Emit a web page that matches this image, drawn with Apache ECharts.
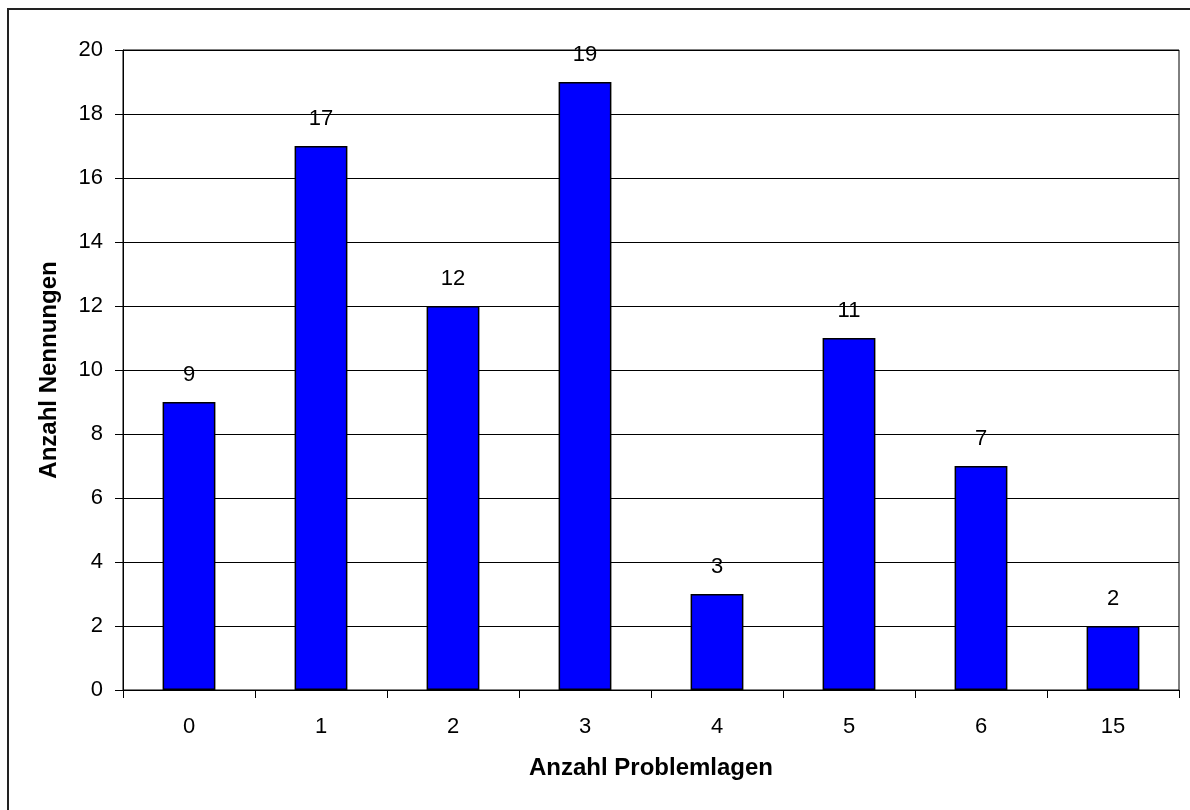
<!DOCTYPE html>
<html>
<head>
<meta charset="utf-8">
<script src="https://cdn.jsdelivr.net/npm/echarts@6/dist/echarts.min.js"></script>
<style>
  html, body { margin: 0; padding: 0; background: #fff; }
  #chart { width: 1190px; height: 810px; }
</style>
</head>
<body>
<div id="chart"></div>
<script>
  const categories = ['0', '1', '2', '3', '4', '5', '6', '15'];
  const nennungen = [9, 17, 12, 19, 3, 11, 7, 2];
  const yTicks = [0, 2, 4, 6, 8, 10, 12, 14, 16, 18, 20];

  const font = '"Liberation Sans", Arial, sans-serif';
  const chart = echarts.init(document.getElementById('chart'));

  chart.setOption({
    animation: false,
    backgroundColor: '#fff',
    graphic: [{
      type: 'rect',
      shape: {x: 8, y: 9, width: 1220, height: 840},
      style: {fill: 'none', stroke: '#222', lineWidth: 2},
      silent: true
    }],
    grid: {
      show: true,
      left: 123,
      top: 50,
      right: 11,
      bottom: 120,
      borderColor: '#000',
      borderWidth: 1,
      backgroundColor: 'transparent'
    },
    xAxis: {
      type: 'category',
      data: categories,
      name: 'Anzahl Problemlagen',
      nameLocation: 'middle',
      nameGap: 66,
      nameTextStyle: {fontFamily: font, fontSize: 24, fontWeight: 'bold', color: '#000'},
      axisLine: {lineStyle: {color: '#000', width: 1}},
      axisTick: {show: true, length: 8, lineStyle: {color: '#000'}},
      axisLabel: {fontFamily: font, fontSize: 22, color: '#000', margin: 26}
    },
    yAxis: {
      type: 'value',
      min: yTicks[0],
      max: yTicks[yTicks.length - 1],
      interval: 2,
      name: 'Anzahl Nennungen',
      nameLocation: 'middle',
      nameGap: 62,
      nameTextStyle: {fontFamily: font, fontSize: 24, fontWeight: 'bold', color: '#000'},
      axisLine: {show: true, lineStyle: {color: '#000', width: 1}},
      axisTick: {show: true, length: 8, lineStyle: {color: '#000'}},
      axisLabel: {fontFamily: font, fontSize: 22, color: '#000', margin: 20},
      splitLine: {show: true, lineStyle: {color: '#000', width: 1}}
    },
    series: [{
      type: 'bar',
      data: nennungen,
      barWidth: '40%',
      itemStyle: {color: '#0000ff', borderColor: '#000', borderWidth: 1.5},
      label: {
        show: true,
        position: 'top',
        distance: 16,
        fontFamily: font,
        fontSize: 22,
        color: '#000'
      }
    }]
  });
</script>
</body>
</html>
